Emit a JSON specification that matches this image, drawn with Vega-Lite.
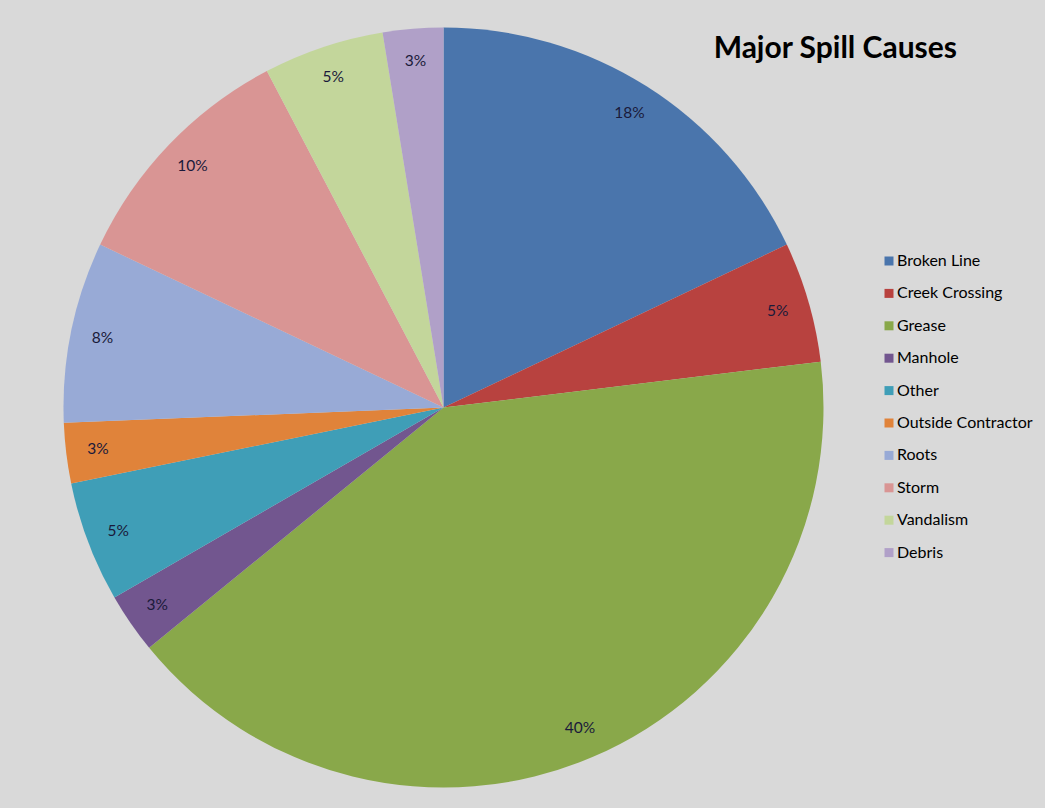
{
  "$schema": "https://vega.github.io/schema/vega-lite/v6.json",
  "width": 759,
  "height": 759,
  "autosize": {"type": "none"},
  "padding": {"left": 64, "top": 28, "right": 222, "bottom": 21},
  "background": "#D9D9D9",
  "title": {
    "text": "Major Spill Causes",
    "orient": "top",
    "anchor": "end",
    "frame": "group",
    "offset": 0,
    "dx": 134,
    "dy": 60,
    "baseline": "alphabetic",
    "font": "Lato",
    "fontSize": 30,
    "fontWeight": "bold",
    "color": "#000000"
  },
  "data": {
    "values": [
      {"idx": 1, "cause": "Broken Line", "count": 7, "label": "18%"},
      {"idx": 2, "cause": "Creek Crossing", "count": 2, "label": "5%"},
      {"idx": 3, "cause": "Grease", "count": 16, "label": "40%"},
      {"idx": 4, "cause": "Manhole", "count": 1, "label": "3%"},
      {"idx": 5, "cause": "Other", "count": 2, "label": "5%"},
      {"idx": 6, "cause": "Outside Contractor", "count": 1, "label": "3%"},
      {"idx": 7, "cause": "Roots", "count": 3, "label": "8%"},
      {"idx": 8, "cause": "Storm", "count": 4, "label": "10%"},
      {"idx": 9, "cause": "Vandalism", "count": 2, "label": "5%"},
      {"idx": 10, "cause": "Debris", "count": 1, "label": "3%"}
    ]
  },
  "encoding": {
    "theta": {"field": "count", "type": "quantitative", "stack": true},
    "order": {"field": "idx", "type": "quantitative"}
  },
  "layer": [
    {
      "mark": {"type": "arc", "outerRadius": 380},
      "encoding": {
        "color": {
          "field": "cause",
          "type": "nominal",
          "sort": null,
          "scale": {
            "domain": ["Broken Line", "Creek Crossing", "Grease", "Manhole", "Other", "Outside Contractor", "Roots", "Storm", "Vandalism", "Debris"],
            "range": ["#4A75AC", "#B8423F", "#89A84A", "#72568F", "#3F9EB7", "#E0833A", "#98AAD6", "#D99594", "#C3D69B", "#B0A0C8"]
          },
          "legend": {
            "title": null,
            "orient": "none",
            "legendX": 817,
            "legendY": 225,
            "padding": 0,
            "symbolType": "square",
            "symbolSize": 81,
            "symbolStrokeWidth": 0,
            "labelFont": "Lato",
            "labelFontSize": 16,
            "labelColor": "#000000",
            "labelOffset": 0,
            "rowPadding": 16.4,
            "labelLimit": 300
          }
        }
      }
    },
    {
      "mark": {"type": "text", "radius": 348, "font": "Lato", "fontSize": 15.5, "color": "#1A1A3A", "align": "center", "baseline": "middle"},
      "encoding": {
        "text": {"field": "label", "type": "nominal"}
      }
    }
  ]
}
